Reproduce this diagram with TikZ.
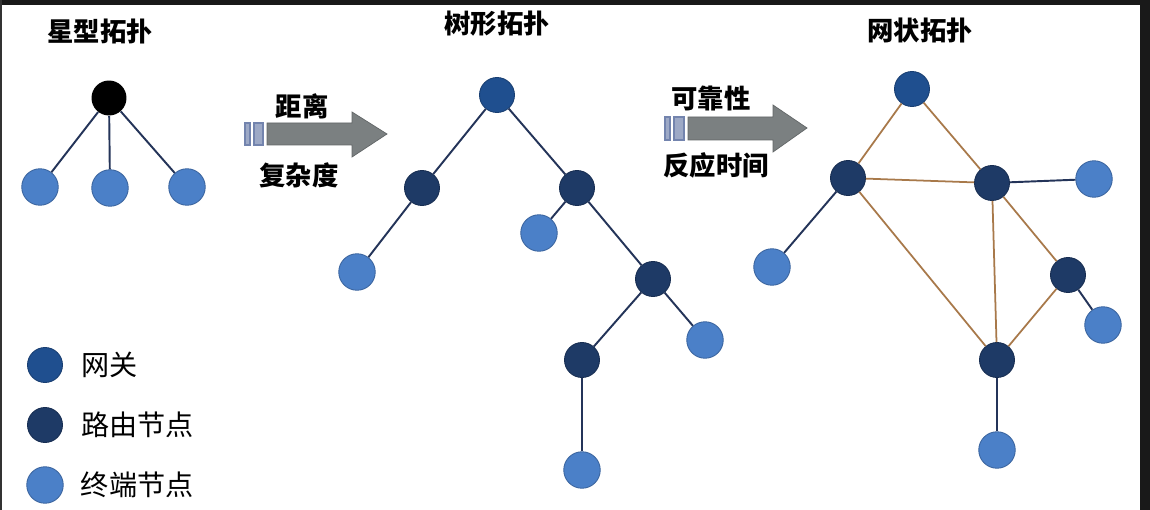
\documentclass[tikz,border=0pt]{standalone}
\usepackage{fontspec}
\newfontfamily\cjk{Noto Sans CJK SC}
\usepackage{tikz}
\usetikzlibrary{positioning}

\definecolor{gwblue}{HTML}{1F4F8F}
\definecolor{rtnavy}{HTML}{1E3A66}
\definecolor{tmblue}{HTML}{4B80C8}
\definecolor{linknavy}{HTML}{243459}
\definecolor{meshbrown}{HTML}{A8794A}
\definecolor{arrowgray}{HTML}{7B8081}
\definecolor{barblue}{HTML}{7384AE}

\begin{document}
\begin{tikzpicture}[
    x=0.02cm, y=-0.02cm,
    node distance=0.3cm and 0.35cm,
    gateway/.style={circle, fill=gwblue, draw=gwblue!80!black, line width=0.5pt,
        minimum size=0.7cm, inner sep=0pt},
    router/.style={circle, fill=rtnavy, draw=rtnavy!80!black, line width=0.5pt,
        minimum size=0.7cm, inner sep=0pt},
    terminal/.style={circle, fill=tmblue, draw=tmblue!80!black, line width=0.5pt,
        minimum size=0.73cm, inner sep=0pt},
    hub/.style={circle, fill=black, minimum size=0.7cm, inner sep=0pt},
    title/.style={font=\cjk\bfseries\fontsize{15}{18}\selectfont},
    tag/.style={font=\cjk\bfseries\fontsize{15}{18}\selectfont, inner sep=1pt},
    legendtext/.style={font=\cjk\fontsize{16}{19}\selectfont, anchor=west},
    link/.style={linknavy, line width=1.1pt},
    meshlink/.style={meshbrown, line width=1pt},
    bigarrow/.style={fill=arrowgray, draw=arrowgray!80!black, line width=0.4pt},
    bar/.style={fill=barblue!70!white, draw=barblue, line width=0.6pt}
]
\useasboundingbox (0,0) rectangle (1150,510);
\fill[white] (0,0) rectangle (1150,510);
% frame
\fill[black!90] (0,0) rectangle (1150,5);
\fill[black!90] (1140,0) rectangle (1150,510);
\fill[black!80] (0,0) rectangle (2,510);

% ---- Star topology ----
\node[title] (startitle) at (100,31) {星型拓扑};
\node[hub] (s0) at (109,98) {};
\node[terminal] (s1) at (40,187) {};
\node[terminal] (s2) at (110,188) {};
\node[terminal] (s3) at (187,187) {};
\foreach \t in {s1,s2,s3}
    \draw[link] (s0) -- (\t);

% ---- Arrow: star -> tree ----
\draw[bigarrow] (267,123) -- (352,123) -- (352,112) -- (387,134)
    -- (352,157) -- (352,145) -- (267,145) -- cycle;
\draw[bar] (245,123) rectangle (250,145);
\draw[bar] (254,123) rectangle (263,145);
\node[tag] (dist) at (302,106) {距离};
\node[tag] (cplx) at (299,175) {复杂度};

% ---- Tree topology ----
\node[title] (treetitle) at (497,24) {树形拓扑};
\node[gateway] (t0) at (497,95) {};
\node[router] (tL) at (422,188) {};
\node[router] (tR) at (577,188) {};
\node[terminal] (tLL) at (357,272) {};
\node[terminal] (tRL) at (539,233) {};
\node[router] (tRR) at (653,279) {};
\node[terminal] (tRRR) at (705,340) {};
\node[router] (tRRL) at (582,360) {};
\node[terminal] (tEnd) at (582,470) {};

\draw[link] (t0) -- (tL);
\draw[link] (t0) -- (tR);
\draw[link] (tL) -- (tLL);
\draw[link] (tR) -- (tRL);
\draw[link] (tR) -- (tRR);
\draw[link] (tRR) -- (tRRR);
\draw[link] (tRR) -- (tRRL);
\draw[link] (tRRL) -- (tEnd);

% ---- Arrow: tree -> mesh ----
\draw[bigarrow] (688,117) -- (773,117) -- (773,105) -- (807,128)
    -- (773,152) -- (773,140) -- (688,140) -- cycle;
\draw[bar] (665,117) rectangle (670,140);
\draw[bar] (674,117) rectangle (684,140);
\node[tag] (rel) at (711,98) {可靠性};
\node[tag] (resp) at (716,165) {反应时间};

% ---- Mesh topology ----
\node[title] (meshtitle) at (920,30) {网状拓扑};
\node[gateway] (m0) at (912,89) {};
\node[router] (mA) at (848,178) {};
\node[router] (mB) at (992,183) {};
\node[router] (mC) at (1068,275) {};
\node[router] (mD) at (997,360) {};
\node[terminal] (mAl) at (772,267) {};
\node[terminal] (mBr) at (1094,179) {};
\node[terminal] (mCr) at (1103,325) {};
\node[terminal] (mDb) at (997,450) {};

\draw[meshlink] (m0) -- (mA);
\draw[meshlink] (m0) -- (mB);
\draw[meshlink] (mA) -- (mB);
\draw[meshlink] (mA) -- (mD);
\draw[meshlink] (mB) -- (mD);
\draw[meshlink] (mB) -- (mC);
\draw[meshlink] (mC) -- (mD);
\draw[link] (mA) -- (mAl);
\draw[link] (mB) -- (mBr);
\draw[link] (mC) -- (mCr);
\draw[link] (mD) -- (mDb);

% ---- Legend ----
\node[gateway] (lgw) at (45,365) {};
\node[router] (lrt) at (45,425) {};
\node[terminal] (ltm) at (45,485) {};
\node[legendtext, right=0.25cm of lgw] {网关};
\node[legendtext, right=0.25cm of lrt] {路由节点};
\node[legendtext, right=0.22cm of ltm] {终端节点};
\end{tikzpicture}
\end{document}
